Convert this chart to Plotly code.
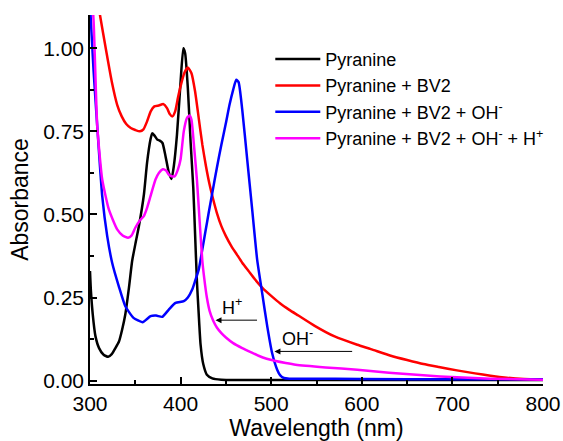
import plotly.graph_objects as go

# Absorption spectra (wavelength in nm, absorbance)
wl_pyr = [300, 301, 303, 306, 310, 315, 320, 324, 328, 332, 335.5, 339, 343, 346.5, 350, 354, 359.5,
          363, 366.8, 368.6, 371, 374, 377, 380, 383.3, 387, 390, 392.5, 396, 400, 403, 405,
          408, 411, 414, 416, 418, 420, 422, 425, 429, 435, 445, 460, 500, 600, 700, 800]
abs_pyr = [0.33, 0.27, 0.2, 0.134, 0.098, 0.078, 0.072, 0.08, 0.098, 0.118, 0.154, 0.2, 0.28, 0.36,
           0.41, 0.465, 0.56, 0.656, 0.726, 0.744, 0.738, 0.726, 0.722, 0.715, 0.676, 0.626, 0.607,
           0.645, 0.74, 0.9, 1.0, 0.985, 0.88, 0.72, 0.58, 0.44, 0.3, 0.2, 0.11, 0.05, 0.018,
           0.007, 0.003, 0.002, 0.002, 0.002, 0.002, 0.002]

wl_bv2 = [300, 305, 311, 318, 324, 330, 335, 340, 345, 350, 355, 359, 363, 367, 371, 376, 381, 385,
          388, 391, 394, 397, 400, 404, 408, 412, 416, 420, 424, 428, 432, 436, 440, 445, 450, 456,
          462, 468, 475, 482, 490, 500, 510, 520, 530, 548, 570, 595, 610, 632, 650, 668, 685, 705,
          725, 742, 760, 779, 800]
abs_bv2 = [1.28, 1.2, 1.1, 0.99, 0.9, 0.83, 0.795, 0.772, 0.76, 0.754, 0.75, 0.756, 0.78, 0.81,
           0.825, 0.828, 0.832, 0.82, 0.802, 0.795, 0.81, 0.85, 0.886, 0.925, 0.942, 0.925, 0.87,
           0.79, 0.71, 0.645, 0.59, 0.545, 0.505, 0.465, 0.435, 0.405, 0.38, 0.355, 0.33, 0.305,
           0.28, 0.255, 0.232, 0.213, 0.196, 0.165, 0.133, 0.108, 0.095, 0.075, 0.062, 0.05, 0.041,
           0.031, 0.022, 0.015, 0.009, 0.005, 0.003]

wl_oh = [300, 304, 308, 313.5, 319, 324.5, 331.8, 339, 348, 358, 366.8, 373, 379.7, 387, 394.4,
         403.5, 408, 412.8, 416, 420, 424, 427.5, 431, 435, 440, 445, 450, 454, 458, 461.4, 464,
         468, 473.5, 479, 484.5, 490, 495.6, 501, 506.6, 510, 514, 520, 540, 600, 700, 800]
abs_oh = [1.13, 0.93, 0.765, 0.555, 0.435, 0.354, 0.284, 0.224, 0.189, 0.176, 0.194, 0.196, 0.192,
          0.214, 0.234, 0.239, 0.25, 0.274, 0.3, 0.334, 0.395, 0.45, 0.505, 0.565, 0.64, 0.71, 0.775,
          0.83, 0.875, 0.905, 0.898, 0.816, 0.666, 0.515, 0.364, 0.264, 0.164, 0.083, 0.033, 0.016,
          0.008, 0.006, 0.006, 0.005, 0.004, 0.004]

wl_oh_h = [300, 304, 308, 313.5, 320.8, 330, 336, 342, 346, 350, 355, 359.4, 363, 366.8, 372.3,
           376, 380.4, 384, 387, 390, 393.6, 397, 400, 403.5, 407, 410, 412, 415, 418, 421, 424,
           426, 429, 432, 436, 440, 445, 450, 458, 468, 478, 486, 495, 505, 516, 527, 560, 595,
           630, 668, 705, 742, 800]
abs_oh_h = [1.25, 1.08, 0.765, 0.605, 0.515, 0.455, 0.437, 0.43, 0.437, 0.46, 0.482, 0.495, 0.52,
            0.555, 0.605, 0.625, 0.636, 0.632, 0.62, 0.615, 0.615, 0.635, 0.666, 0.75, 0.79, 0.798,
            0.785, 0.7, 0.605, 0.48, 0.36, 0.31, 0.25, 0.21, 0.18, 0.16, 0.143, 0.13, 0.113,
            0.098, 0.085, 0.075, 0.066, 0.059, 0.053, 0.048, 0.04, 0.033, 0.024, 0.016, 0.01,
            0.006, 0.003]

series = [
    ("Pyranine", wl_pyr, abs_pyr, "#000000"),
    ("Pyranine + BV2", wl_bv2, abs_bv2, "#ff0000"),
    ("Pyranine + BV2 + OH<sup>-</sup>", wl_oh, abs_oh, "#0000ff"),
    ("Pyranine + BV2 + OH<sup>-</sup> + H<sup>+</sup>", wl_oh_h, abs_oh_h, "#ff00ff"),
]

FONT = "Arial, Liberation Sans, sans-serif"

fig = go.Figure()
for name, x, y, color in series:
    fig.add_trace(go.Scatter(
        x=x, y=y, name=name, mode="lines",
        line=dict(color=color, width=2.5, shape="spline", smoothing=0.5),
    ))

# Arrows marking the spectral shifts
fig.add_annotation(x=438.5, y=0.182, ax=486, ay=0.182, xref="x", yref="y", axref="x", ayref="y",
                   showarrow=True, arrowhead=2, arrowsize=1.2, arrowwidth=1, arrowcolor="black", text="")
fig.add_annotation(x=457, y=0.222, xref="x", yref="y", showarrow=False, text="H<sup>+</sup>",
                   font=dict(family=FONT, size=18, color="black"))
fig.add_annotation(x=503.6, y=0.088, ax=591, ay=0.088, xref="x", yref="y", axref="x", ayref="y",
                   showarrow=True, arrowhead=2, arrowsize=1.2, arrowwidth=1, arrowcolor="black", text="")
fig.add_annotation(x=529, y=0.13, xref="x", yref="y", showarrow=False, text="OH<sup>-</sup>",
                   font=dict(family=FONT, size=18, color="black"))

axis_common = dict(
    showline=True, linecolor="black", linewidth=1.5, mirror=False,
    ticks="inside", ticklen=7, tickwidth=1.5, tickcolor="black",
    showgrid=False, zeroline=False, automargin=False,
    tickfont=dict(family=FONT, size=21, color="black"),
)

fig.update_xaxes(
    range=[300, 800], dtick=100, tick0=300,
    minor=dict(ticks="inside", ticklen=4, tickwidth=1.5, tickcolor="black", dtick=50, showgrid=False),
    title=dict(text="Wavelength (nm)", font=dict(family=FONT, size=23, color="black"), standoff=4),
    **axis_common,
)
fig.update_yaxes(
    range=[-0.01, 1.1], dtick=0.25, tick0=0, tickformat=".2f",
    minor=dict(ticks="inside", ticklen=4, tickwidth=1.5, tickcolor="black", dtick=0.125, showgrid=False),
    title=dict(text="Absorbance", font=dict(family=FONT, size=23, color="black"), standoff=8),
    **axis_common,
)

fig.update_layout(
    width=563, height=441,
    margin=dict(l=90, r=20, t=15, b=57),
    paper_bgcolor="white", plot_bgcolor="white",
    legend=dict(x=0.398, y=0.93, xanchor="left", yanchor="top",
                font=dict(family=FONT, size=18, color="black"),
                bgcolor="rgba(0,0,0,0)", itemwidth=45, tracegroupgap=0),
)

fig.write_html("out.html")
